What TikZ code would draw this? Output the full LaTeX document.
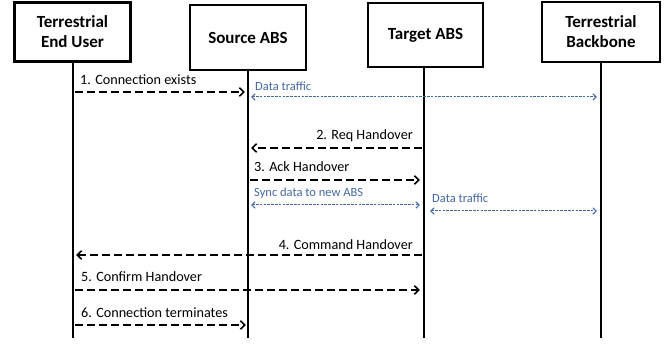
\documentclass[tikz,border=0pt]{standalone}
\usepackage{fontspec}
\setmainfont{Carlito}
\usetikzlibrary{arrows.meta}
\definecolor{flowblue}{RGB}{68,104,164}
\begin{document}
\begin{tikzpicture}[x=1pt,y=-1pt,
  actor/.style={draw, line width=2.8pt, font=\fontsize{17}{20}\selectfont\bfseries,
    align=center, inner sep=0pt},
  life/.style={line width=2.8pt},
  msg/.style={line width=1.8pt, dash pattern=on 8pt off 4pt,
    -{Straight Barb[length=4.5pt,width=8.5pt,line width=1.6pt]}},
  flow/.style={flowblue, line width=1pt, dash pattern=on 2.6pt off 1.2pt,
    {Straight Barb[length=3.5pt,width=6.5pt,line width=1pt]}-{Straight Barb[length=3.5pt,width=6.5pt,line width=1pt]}},
  mlabel/.style={font=\fontsize{14.2}{16}\selectfont, inner sep=0pt},
  flabel/.style={font=\fontsize{12.5}{14}\selectfont, text=flowblue, inner sep=0pt}]
\useasboundingbox (0,0) rectangle (670,347);

% participants
\node[actor, minimum width=116pt, minimum height=59pt] (eu)  at (72.5,32)  {Terrestrial\\End User};
\node[actor, minimum width=116pt, minimum height=65pt] (src) at (248,37.5)  {Source ABS};
\node[actor, minimum width=115pt, minimum height=64pt] (tgt) at (425.5,35) {Target ABS};
\node[actor, minimum width=118pt, minimum height=60pt] (bb)  at (601,32)   {Terrestrial\\Backbone};

% lifelines
\coordinate (euEnd)  at (73,338);
\coordinate (srcEnd) at (248,338);
\coordinate (tgtEnd) at (424,338);
\coordinate (bbEnd)  at (601,338);
\draw[life] (eu.south -| euEnd) -- (euEnd);
\draw[life] (src.south -| srcEnd) -- (srcEnd);
\draw[life] (tgt.south -| tgtEnd) -- (tgtEnd);
\draw[life] (bb.south -| bbEnd) -- (bbEnd);

% message end points
\coordinate (m1a) at (75,92);   \coordinate (m1b) at (245,92);
\coordinate (d1a) at (251,97);  \coordinate (d1b) at (597,97);
\coordinate (m2a) at (422,148); \coordinate (m2b) at (251,148);
\coordinate (m3a) at (250,180); \coordinate (m3b) at (420,180);
\coordinate (s1a) at (251,205); \coordinate (s1b) at (420,205);
\coordinate (d2a) at (430,211); \coordinate (d2b) at (597,211);
\coordinate (m4a) at (422,255); \coordinate (m4b) at (76,255);
\coordinate (m5a) at (75,290);  \coordinate (m5b) at (420,290);
\coordinate (m6a) at (75,325);  \coordinate (m6b) at (246,325);

% messages
\draw[msg]  (m1a) -- (m1b);
\draw[flow] (d1a) -- (d1b);
\draw[msg]  (m2a) -- (m2b);
\draw[msg]  (m3a) -- (m3b);
\draw[flow] (s1a) -- (s1b);
\draw[flow] (d2a) -- (d2b);
\draw[msg]  (m4a) -- (m4b);
\draw[msg]  (m5a) -- (m5b);
\draw[msg]  (m6a) -- (m6b);

% labels
\node[mlabel, anchor=base west] (l1) at (80,85)    {1. Connection exists};
\node[flabel, anchor=base west] (f1) at (255,91)   {Data traffic};
\node[mlabel, anchor=base east] (l2) at (413,139.5) {2. Req Handover};
\node[mlabel, anchor=base west] (l3) at (254,171.5) {3. Ack Handover};
\node[flabel, anchor=base west] (f2) at (254,197)  {Sync data to new ABS};
\node[flabel, anchor=base west] (f3) at (432,203)  {Data traffic};
\node[mlabel, anchor=base east] (l4) at (413,249.5) {4. Command Handover};
\node[mlabel, anchor=base west] (l5) at (81,281.5) {5. Confirm Handover};
\node[mlabel, anchor=base west] (l6) at (81,317.5) {6. Connection terminates};
\end{tikzpicture}
\end{document}
